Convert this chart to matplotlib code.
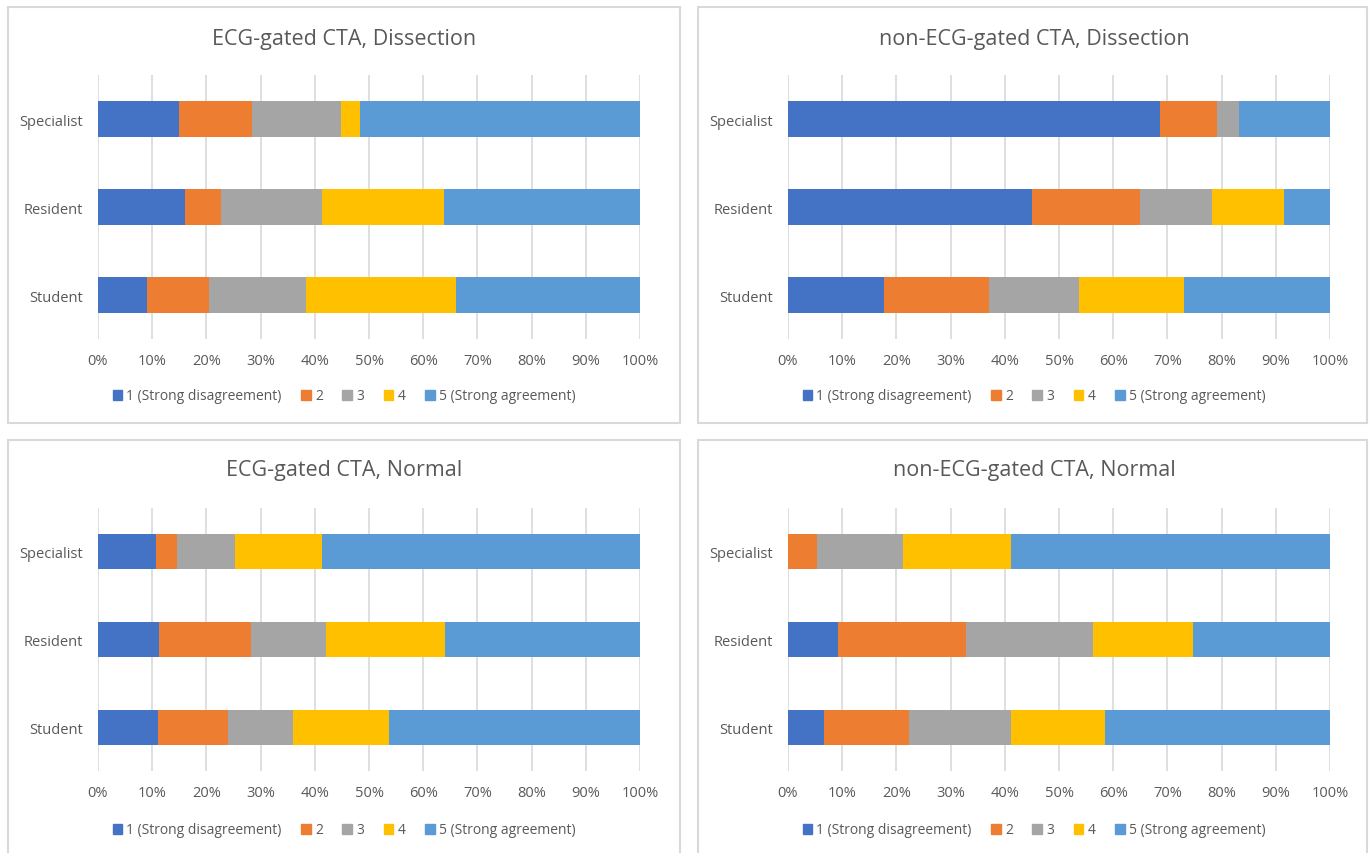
import matplotlib.pyplot as plt
import matplotlib.patches as mpatches
import numpy as np

plt.rcParams['font.family'] = ['Open Sans', 'DejaVu Sans']

# 数据
groups = ["Student", "Resident", "Specialist"]
levels = ["1 (Strong disagreement)", "2", "3", "4", "5 (Strong agreement)"]
colors = ["#4472C4", "#ED7D31", "#A5A5A5", "#FFC000", "#5B9BD5"]

titles = ["ECG-gated CTA, Dissection", "non-ECG-gated CTA, Dissection",
          "ECG-gated CTA, Normal", "non-ECG-gated CTA, Normal"]

# 每个面板: 行 = Student, Resident, Specialist; 列 = 等级 1..5 (百分比)
ecg_dissection = [[9.1, 11.4, 17.9, 27.7, 33.9],
                  [16.0, 6.7, 18.6, 22.6, 36.1],
                  [15.0, 13.4, 16.5, 3.5, 51.6]]
nonecg_dissection = [[17.8, 19.3, 16.6, 19.4, 26.9],
                     [45.0, 20.0, 13.3, 13.2, 8.5],
                     [68.7, 10.4, 4.2, 0.0, 16.7]]
ecg_normal = [[11.1, 12.8, 12.1, 17.6, 46.4],
              [11.3, 16.9, 13.8, 22.1, 35.9],
              [10.7, 3.9, 10.7, 16.0, 58.7]]
nonecg_normal = [[6.6, 15.7, 18.9, 17.2, 41.6],
                 [9.2, 23.7, 23.4, 18.5, 25.2],
                 [0.0, 5.4, 15.8, 20.0, 58.8]]

panels = [ecg_dissection, nonecg_dissection, ecg_normal, nonecg_normal]

W, H = 1372, 854
fig = plt.figure(figsize=(W / 100, H / 100), dpi=100)

# 面板边框 (像素)
frames = [(8, 8, 680, 424), (698, 8, 1367, 424),
          (8, 441, 680, 860), (698, 441, 1367, 860)]
# 绘图区 (像素): 左, 上, 右, 下
areas = [(98, 76, 640, 340), (788, 76, 1330, 340),
         (98, 509, 640, 772), (788, 509, 1330, 772)]
title_y = [40, 40, 471, 471]
legend_y = [397, 397, 831, 831]

text_col = "#595959"

for i in range(4):
    x0, y0, x1, y1 = frames[i]
    fig.patches.append(mpatches.Rectangle((x0 / W, 1 - y1 / H), (x1 - x0) / W, (y1 - y0) / H,
                                          transform=fig.transFigure, fill=False,
                                          edgecolor="#D9D9D9", linewidth=1.5))
    l, t, r, b = areas[i]
    ax = fig.add_axes([l / W, 1 - b / H, (r - l) / W, (b - t) / H])
    data = np.array(panels[i])
    y = np.arange(len(groups))
    left = np.zeros(len(groups))
    for j in range(len(levels)):
        ax.barh(y, data[:, j], left=left, height=0.4, color=colors[j],
                label=levels[j], zorder=3)
        left = left + data[:, j]
    ax.set_xlim(0, 100)
    ax.set_ylim(-0.5, 2.5)
    ax.set_xticks(np.arange(0, 101, 10))
    ax.set_xticklabels([f"{v}%" for v in range(0, 101, 10)])
    ax.set_yticks(y)
    ax.set_yticklabels(groups)
    ax.grid(axis="x", color="#D9D9D9", linewidth=1.2, zorder=0)
    for s in ax.spines.values():
        s.set_visible(False)
    ax.tick_params(length=0, labelsize=10.5, labelcolor=text_col, pad=10)
    ax.tick_params(axis="y", pad=11)
    cx = ((l + r) / 2 - 25) / W
    fig.text(cx, 1 - title_y[i] / H, titles[i], ha="center", va="center",
             fontsize=15.5, color=text_col)
    handles = [mpatches.Patch(color=c) for c in colors]
    fig.legend(handles, levels, loc="center", ncol=5,
               bbox_to_anchor=(cx, 1 - legend_y[i] / H),
               frameon=False, fontsize=10, labelcolor=text_col,
               handlelength=0.7, handleheight=0.7, handletextpad=0.3, columnspacing=1.4)

fig.savefig("out.png", dpi=100, facecolor="white")
